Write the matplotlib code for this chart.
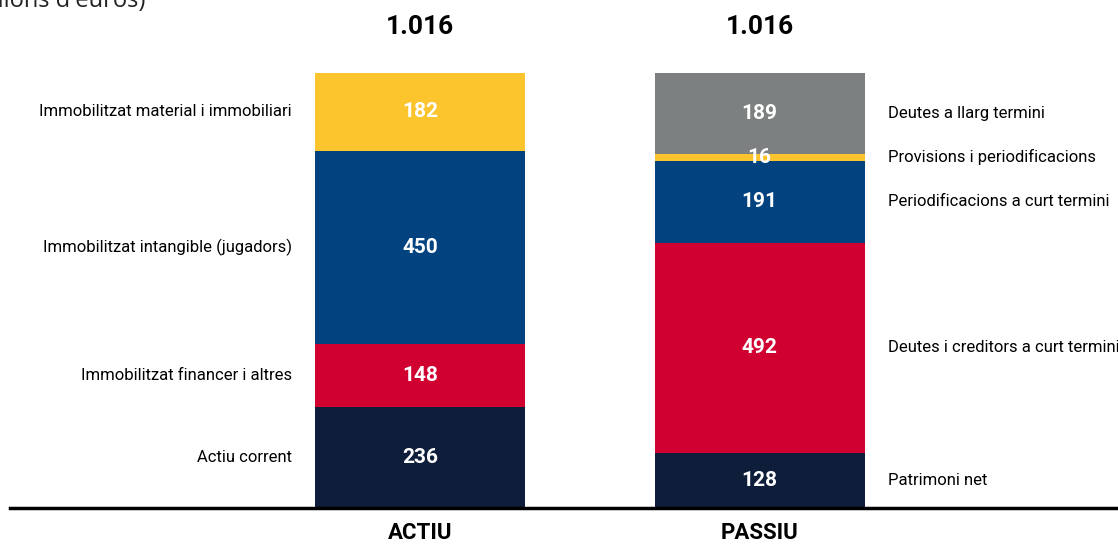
import matplotlib
matplotlib.use("Agg")
import matplotlib.pyplot as plt
from matplotlib import font_manager

# balance sheet, millions of euros
columns = ["ACTIU", "PASSIU"]
totals = ["1.016", "1.016"]

actiu_labels = ["Actiu corrent", "Immobilitzat financer i altres",
                "Immobilitzat intangible (jugadors)", "Immobilitzat material i immobiliari"]
actiu_values = [236, 148, 450, 182]
actiu_colors = ["#0e1e3a", "#d00030", "#01427f", "#fcc42d"]

passiu_labels = ["Patrimoni net", "Deutes i creditors a curt termini",
                 "Periodificacions a curt termini", "Provisions i periodificacions",
                 "Deutes a llarg termini"]
passiu_values = [128, 492, 191, 16, 189]
passiu_colors = ["#0e1e3a", "#d00030", "#01427f", "#fcc42d", "#7d8080"]

available = {f.name for f in font_manager.fontManager.ttflist}
narrow = "Liberation Sans Narrow" if "Liberation Sans Narrow" in available else "Roboto"
plt.rcParams["font.family"] = [narrow, "DejaVu Sans"]

W, H = 1118, 544
fig = plt.figure(figsize=(W / 100, H / 100), dpi=100)
ax = fig.add_axes([0, (H - 508) / H, 1, (508 - 73) / H])

step = 339.5  # px between column centres
ax.set_xlim(-420 / step, 1 + (W - 759.5) / step)
ax.set_ylim(0, sum(actiu_values))
bw = 210 / step

def stack(x, values, colors, labels, side):
    bottom = 0
    for v, c, lab in zip(values, colors, labels):
        ax.bar(x, v, bottom=bottom, width=bw, color=c, linewidth=0)
        mid = bottom + v / 2
        ax.text(x, mid, str(v), ha="center", va="center", color="white",
                fontsize=15, fontweight="bold")
        if side == "left":
            ax.text(x - bw / 2 - 23 / step, mid, lab, ha="right", va="center",
                    fontsize=12, color="black")
        else:
            ax.text(x + bw / 2 + 24 / step, mid, lab, ha="left", va="center",
                    fontsize=12, color="black")
        bottom += v

stack(0, actiu_values, actiu_colors, actiu_labels, "left")
stack(1, passiu_values, passiu_colors, passiu_labels, "right")

ymax = sum(actiu_values)
for i, (name, tot) in enumerate(zip(columns, totals)):
    ax.text(i, ymax + 46 / 0.428, tot, ha="center", va="center",
            fontsize=19, fontweight="bold", color="black")
    ax.text(i, -25 / 0.428, name, ha="center", va="center",
            fontsize=16, fontweight="bold", color="black", clip_on=False)

ax.axhline(0, xmin=10 / W, xmax=1, color="black", lw=2.5, clip_on=False)

fig.text(145 / W, 1 - 7 / H, "(en milions d'euros)", ha="right", va="baseline",
         fontsize=17, color="#222222", family=["Open Sans", "DejaVu Sans"])

ax.axis("off")
fig.savefig("out.png", dpi=100)
